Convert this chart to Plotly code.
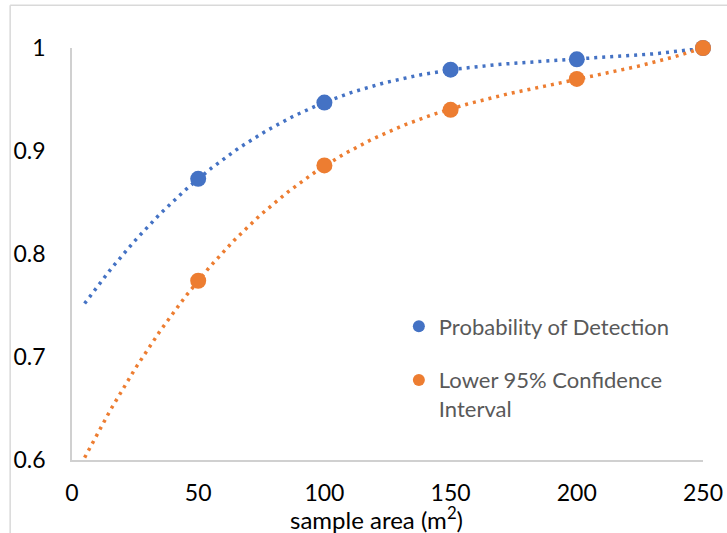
import numpy as np
import plotly.graph_objects as go

# Data
sample_area = [50, 100, 150, 200, 250]
prob_detection = [0.873, 0.947, 0.979, 0.989, 1.000]
lower_95_ci = [0.774, 0.886, 0.940, 0.970, 1.000]
series_names = ["Probability of Detection", "Lower 95% Confidence<br>Interval"]
x_ticks = [0, 50, 100, 150, 200, 250]
y_ticks = [0.6, 0.7, 0.8, 0.9, 1.0]
y_tick_text = ["0.6", "0.7", "0.8", "0.9", "1"]
x_title = "sample area (m<sup>2</sup>)"

BLUE = "#4472C4"
ORANGE = "#ED7D31"
FONT = "Lato"

# Cubic polynomial trendlines (as in the source chart), backward forecast to x=5
trend_x = np.linspace(5, 250, 200)
fit_blue = np.polyval(np.polyfit(sample_area, prob_detection, 3), trend_x)
fit_orange = np.polyval(np.polyfit(sample_area, lower_95_ci, 3), trend_x)

fig = go.Figure()
dash = "3px,5px"
fig.add_trace(go.Scatter(x=trend_x, y=fit_blue, mode="lines",
                         line=dict(color=BLUE, width=3.5, dash=dash),
                         showlegend=False, hoverinfo="skip", cliponaxis=True))
fig.add_trace(go.Scatter(x=trend_x, y=fit_orange, mode="lines",
                         line=dict(color=ORANGE, width=3.5, dash=dash),
                         showlegend=False, hoverinfo="skip", cliponaxis=True))
fig.add_trace(go.Scatter(x=sample_area, y=prob_detection, mode="markers",
                         name=series_names[0], legendgroup="a",
                         marker=dict(color=BLUE, size=16), cliponaxis=False))
fig.add_trace(go.Scatter(x=sample_area, y=lower_95_ci, mode="markers",
                         name=series_names[1], legendgroup="b",
                         marker=dict(color=ORANGE, size=16), cliponaxis=False))

fig.update_layout(
    width=727, height=533,
    margin=dict(l=72, r=24, t=48, b=73, autoexpand=False),
    paper_bgcolor="white", plot_bgcolor="white",
    font=dict(family=FONT, color="#000000"),
    legend=dict(x=0.518, y=0.375, xanchor="left", yanchor="top",
                bgcolor="rgba(0,0,0,0)", font=dict(size=22, color="#595959", family=FONT),
                tracegroupgap=22, valign="top", itemsizing="constant"),
    xaxis=dict(range=[0, 250], tickvals=x_ticks, showgrid=False, zeroline=False,
               automargin=False,
               showline=True, linecolor="#d0d0d0", linewidth=1.5,
               ticks="", tickfont=dict(size=23, family=FONT, color="#000000"),
               ticklabelstandoff=12),
    yaxis=dict(range=[0.6, 1.0], tickvals=y_ticks, ticktext=y_tick_text,
               showgrid=False, zeroline=False, automargin=False,
               showline=True, linecolor="#d0d0d0", linewidth=1.5,
               ticks="", tickfont=dict(size=23, family=FONT, color="#000000"),
               ticklabelstandoff=20),
    annotations=[
        dict(text=x_title, xref="paper", yref="paper", x=0.482, y=-0.141,
             xanchor="center", yanchor="middle", showarrow=False,
             font=dict(size=24, family=FONT, color="#000000")),
    ],
    shapes=[
        dict(type="line", xref="paper", yref="paper", x0=-0.098, x1=1.05, y0=1.104, y1=1.104,
             line=dict(color="#d9d9d9", width=1.5)),
        dict(type="line", xref="paper", yref="paper", x0=-0.098, x1=-0.098, y0=1.104, y1=-0.2,
             line=dict(color="#d9d9d9", width=1.5)),
    ],
)

fig.write_html("out.html", config={"displayModeBar": False},
               post_script="document.body.style.margin='0px';document.body.style.overflow='hidden';")
